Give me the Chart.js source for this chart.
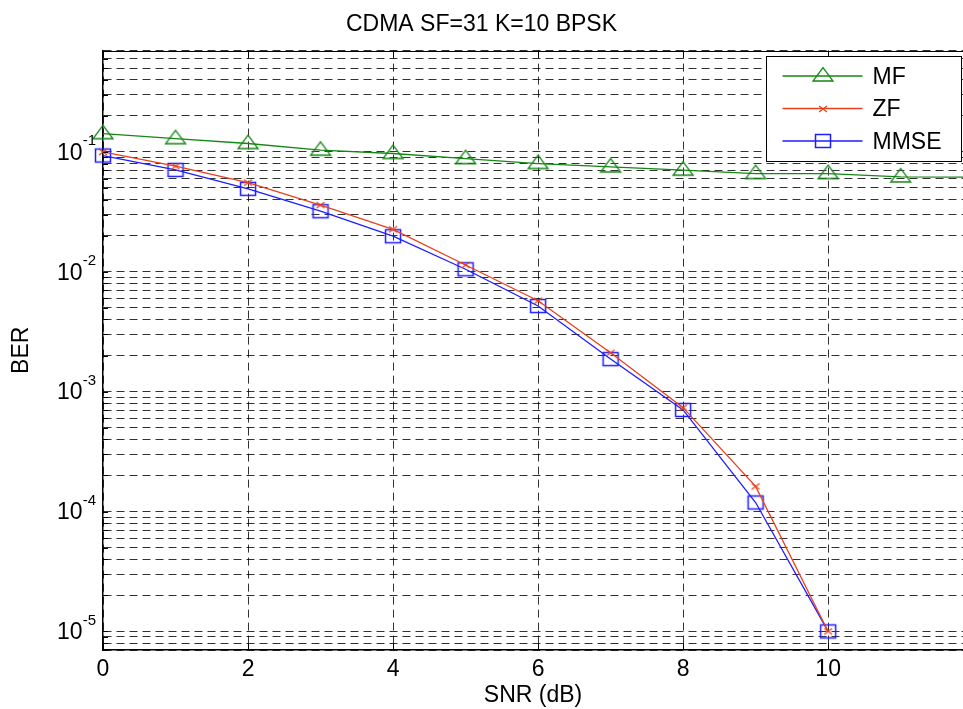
<!DOCTYPE html>
<html>
<head>
<meta charset="utf-8">
<title>CDMA SF=31 K=10 BPSK</title>
<script src="https://cdn.jsdelivr.net/npm/chart.js@4.4.1/dist/chart.umd.min.js"></script>
<style>
  html, body { margin: 0; padding: 0; background: #fff; }
</style>
</head>
<body>
<canvas id="berChart" width="963" height="709"></canvas>
<script>
// SNR points (dB) and BER values
const snrMF = [0, 1, 2, 3, 4, 5, 6, 7, 8, 9, 10, 11, 12];
const berMF = [0.142, 0.129, 0.1175, 0.1033, 0.097, 0.088, 0.080, 0.075, 0.0704, 0.066, 0.066, 0.0619, 0.0615];

const snrLin = [0, 1, 2, 3, 4, 5, 6, 7, 8, 9, 10];
const berZF = [0.100, 0.076, 0.0555, 0.036, 0.0226, 0.0114, 0.00573, 0.00211, 0.000736, 0.000162, 0.00001];
const berMMSE = [0.0933, 0.0708, 0.0492, 0.032, 0.0198, 0.0105, 0.00518, 0.00187, 0.000704, 0.000119, 0.00001];

const seriesNames = ["MF", "ZF", "MMSE"];
const seriesColors = ["rgb(20,135,20)", "rgb(232,64,28)", "rgb(30,30,255)"];

const xTickValues = [0, 2, 4, 6, 8, 10];
const yDecades = [-5, -4, -3, -2, -1];

const FONT = "'Liberation Sans', Arial, sans-serif";
const GRID = "rgba(0,0,0,0.8)";

// hollow MATLAB-like markers as small canvases
function makeMarker(w, h, draw) {
  const c = document.createElement("canvas");
  c.width = w;
  c.height = h;
  draw(c.getContext("2d"));
  return c;
}

const triMarker = makeMarker(24, 20, (g) => {
  g.strokeStyle = seriesColors[0];
  g.lineWidth = 1.3;
  g.beginPath();
  g.moveTo(12, 1.7);
  g.lineTo(22, 15);
  g.lineTo(2, 15);
  g.closePath();
  g.stroke();
});

const crossMarker = makeMarker(12, 10, (g) => {
  g.strokeStyle = seriesColors[1];
  g.lineWidth = 1.2;
  g.beginPath();
  g.moveTo(2, 2); g.lineTo(10, 8);
  g.moveTo(10, 2); g.lineTo(2, 8);
  g.stroke();
});

const squareMarker = makeMarker(20, 18, (g) => {
  g.strokeStyle = seriesColors[2];
  g.lineWidth = 1.5;
  g.strokeRect(2.5, 2.5, 15, 13);
});

const markers = [triMarker, crossMarker, squareMarker];

const toPoints = (xs, ys) => xs.map((x, i) => ({ x: x, y: ys[i] }));

// axes decorations: superscript decade labels, inner ticks, top border, legend
const matlabDecor = {
  id: "matlabDecor",
  afterDraw(chart) {
    const ctx = chart.ctx;
    const area = chart.chartArea;
    const yScale = chart.scales.y;
    const xScale = chart.scales.x;

    ctx.save();

    // top border
    ctx.strokeStyle = "#000";
    ctx.lineWidth = 1;
    ctx.beginPath();
    ctx.moveTo(area.left, Math.round(area.top) + 0.5);
    ctx.lineTo(area.right, Math.round(area.top) + 0.5);
    ctx.stroke();

    // inner tick marks
    ctx.beginPath();
    yScale.ticks.forEach((t) => {
      const py = Math.round(yScale.getPixelForValue(t.value)) + 0.5;
      ctx.moveTo(area.left, py);
      ctx.lineTo(area.left + 5, py);
    });
    xScale.ticks.forEach((t) => {
      const px = Math.round(xScale.getPixelForValue(t.value)) + 0.5;
      ctx.moveTo(px, area.bottom);
      ctx.lineTo(px, area.bottom - 7);
      ctx.moveTo(px, area.top);
      ctx.lineTo(px, area.top + 7);
    });
    ctx.stroke();

    // decade labels 10^n
    ctx.fillStyle = "#000";
    ctx.textBaseline = "alphabetic";
    ctx.textAlign = "right";
    yDecades.forEach((e) => {
      const py = yScale.getPixelForValue(Math.pow(10, e));
      const expRight = area.left - 7;
      ctx.font = "15px " + FONT;
      const expText = String(e);
      const expW = ctx.measureText(expText).width;
      ctx.fillText(expText, expRight, py - 6.5);
      ctx.font = "23px " + FONT;
      ctx.fillText("10", expRight - expW, py + 7.8);
    });

    // legend box
    const boxRight = Math.round(area.right) - 1.5;
    const boxLeft = boxRight - 195;
    const boxTop = Math.round(area.top) + 5.5;
    const boxBottom = boxTop + 105;
    ctx.fillStyle = "#fff";
    ctx.fillRect(boxLeft, boxTop, boxRight - boxLeft, boxBottom - boxTop);
    ctx.strokeStyle = "#000";
    ctx.lineWidth = 1;
    ctx.strokeRect(boxLeft, boxTop, boxRight - boxLeft, boxBottom - boxTop);

    seriesNames.forEach((name, i) => {
      const ry = boxTop + 19.5 + i * 32.5;
      ctx.strokeStyle = seriesColors[i];
      ctx.lineWidth = 1.3;
      ctx.beginPath();
      ctx.moveTo(boxLeft + 16, ry);
      ctx.lineTo(boxLeft + 96, ry);
      ctx.stroke();
      const m = markers[i];
      ctx.drawImage(m, Math.round(boxLeft + 56 - m.width / 2), Math.round(ry - m.height / 2));
      ctx.fillStyle = "#000";
      ctx.font = "23px " + FONT;
      ctx.textAlign = "left";
      ctx.textBaseline = "middle";
      ctx.fillText(name, boxLeft + 106, ry + 1.5);
    });

    ctx.restore();
  }
};

const datasets = [
  { label: seriesNames[0], data: toPoints(snrMF, berMF) },
  { label: seriesNames[1], data: toPoints(snrLin, berZF) },
  { label: seriesNames[2], data: toPoints(snrLin, berMMSE) }
].map((d, i) => Object.assign(d, {
  borderColor: seriesColors[i],
  backgroundColor: seriesColors[i],
  borderWidth: 1.3,
  pointStyle: markers[i],
  pointRadius: 8,
  pointHoverRadius: 8,
  tension: 0,
  clip: false
}));

new Chart(document.getElementById("berChart"), {
  type: "line",
  data: { datasets: datasets },
  options: {
    responsive: false,
    animation: false,
    events: [],
    layout: { padding: 0, autoPadding: false },
    plugins: {
      legend: { display: false },
      tooltip: { enabled: false },
      title: {
        display: true,
        text: "CDMA SF=31 K=10 BPSK",
        color: "#000",
        font: { family: FONT, size: 23, weight: "normal" },
        padding: { top: 11, bottom: 12 }
      }
    },
    scales: {
      x: {
        type: "linear",
        min: 0,
        max: 11.86,
        afterBuildTicks: (s) => { s.ticks = xTickValues.map((v) => ({ value: v })); },
        afterFit: (s) => {
          s.height = 59;
          s.paddingLeft = 0;
          s.paddingRight = 0;
        },
        ticks: { color: "#000", font: { family: FONT, size: 23 }, padding: 6, maxRotation: 0, autoSkip: false },
        grid: { color: GRID, lineWidth: 1, drawTicks: false },
        border: { display: true, color: "#000", width: 1.5, dash: [8, 5] },
        title: {
          display: true,
          text: "SNR (dB)",
          color: "#000",
          font: { family: FONT, size: 23 },
          padding: { top: 0, bottom: 0 }
        }
      },
      y: {
        type: "logarithmic",
        min: 7e-6,
        max: 0.7,
        afterBuildTicks: (s) => {
          const t = [];
          for (let e = -6; e <= 0; e++) {
            for (let m = 1; m <= 9; m++) {
              const v = m * Math.pow(10, e);
              if (v >= s.min * 0.9999 && v <= s.max * 1.0001) t.push({ value: v });
            }
          }
          s.ticks = t;
        },
        afterFit: (s) => {
          s.width = 103;
          s.paddingTop = 0;
          s.paddingBottom = 0;
        },
        ticks: { display: false },
        grid: { color: GRID, lineWidth: 1, drawTicks: false },
        border: { display: true, color: "#000", width: 1.5, dash: [8, 5] },
        title: {
          display: true,
          text: "BER",
          color: "#000",
          font: { family: FONT, size: 23 },
          padding: { top: 8, bottom: 0 }
        }
      }
    }
  },
  plugins: [matlabDecor]
});
</script>
</body>
</html>
